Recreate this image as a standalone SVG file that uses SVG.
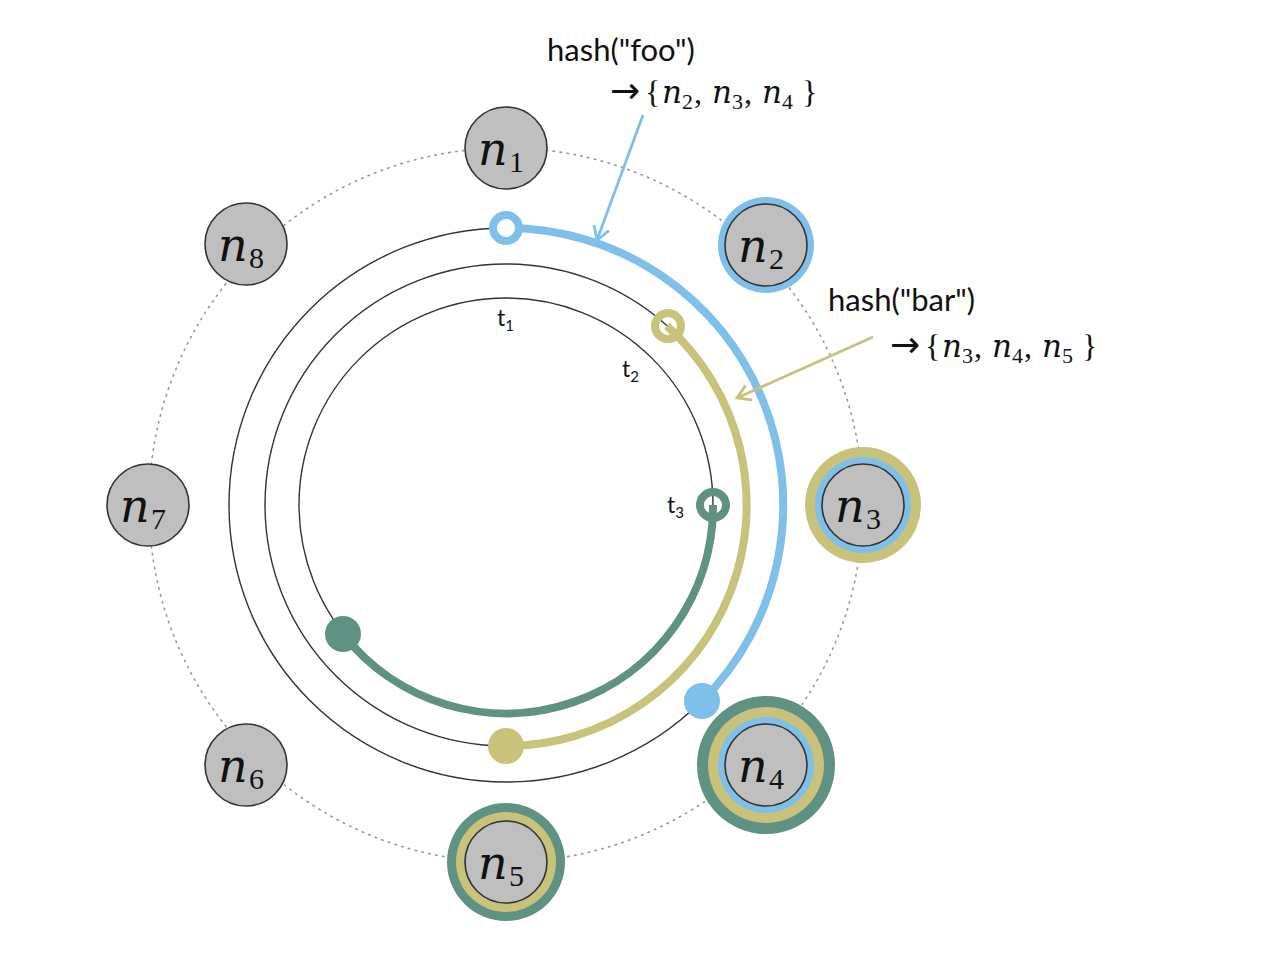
<svg xmlns="http://www.w3.org/2000/svg" width="1268" height="972" viewBox="0 0 1268 972">
<style>
.ring{fill:none;stroke:#333;stroke-width:1.4}
.dot{fill:none;stroke:#999;stroke-width:1.6;stroke-dasharray:1.5 5.5;stroke-linecap:round}
.node{fill:#bfbfbf;stroke:#333;stroke-width:1.6}
.nl{font-family:"DejaVu Serif",serif;font-style:italic;font-size:46px;fill:#111}
.ns{font-family:"Liberation Serif",serif;font-style:normal;font-size:30px}
.lab{font-family:"Lato","Open Sans",sans-serif;font-size:31px;fill:#111}
.math{font-family:"Liberation Serif",serif;font-size:32px;fill:#111}
.mi{font-family:"DejaVu Serif",serif;font-style:italic;font-size:31px}
.sub{font-size:22px}
.arr{font-family:"DejaVu Sans",sans-serif;font-size:36px}
.tl{font-family:"Lato","Open Sans",sans-serif;font-size:23px;fill:#111}
.ts{font-size:15px}
.blue{stroke:#7fc0eb}
.khaki{stroke:#c8c27a}
.green{stroke:#5f9282}
</style>
<defs>
<marker id="ab" markerUnits="userSpaceOnUse" markerWidth="30" markerHeight="30" refX="0" refY="0" viewBox="-20 -15 30 30" orient="auto"><path d="M-13,-8 L0,0 L-13,8" fill="none" stroke="#7fc0eb" stroke-width="2.8"/></marker>
<marker id="ak" markerUnits="userSpaceOnUse" markerWidth="30" markerHeight="30" refX="0" refY="0" viewBox="-20 -15 30 30" orient="auto"><path d="M-13,-8 L0,0 L-13,8" fill="none" stroke="#c8c27a" stroke-width="2.8"/></marker>
</defs>
<rect width="1268" height="972" fill="#fff"/>
<circle class="dot" cx="506" cy="505" r="357"/>
<circle class="ring" cx="506" cy="505" r="277"/>
<circle class="ring" cx="506" cy="505" r="241"/>
<circle class="ring" cx="506" cy="505" r="207"/>
<g id="connectors">
<path class="blue" d="M506,228 A277,277 0 0 1 702,701" fill="none" stroke-width="8"/>
<circle cx="506" cy="228" r="13" fill="#fff" class="blue" stroke-width="8"/>
<circle cx="702" cy="701" r="18" fill="#7fc0eb"/>
<path class="khaki" d="M667,326 A241,241 0 0 1 506,746" fill="none" stroke-width="8"/>
<circle cx="668" cy="326" r="13" fill="none" class="khaki" stroke-width="8"/>
<circle cx="506" cy="746" r="18" fill="#c8c27a"/>
<path class="green" d="M713,505 A207,207 0 0 1 343,634" fill="none" stroke-width="8"/>
<circle cx="713" cy="505" r="13" fill="none" class="green" stroke-width="8"/>
<circle cx="343" cy="634" r="18" fill="#5f9282"/>
<line x1="643" y1="115" x2="597" y2="240" stroke="#7fc0eb" stroke-width="2.8" marker-end="url(#ab)"/>
<line x1="873" y1="337" x2="737" y2="398" stroke="#c8c27a" stroke-width="2.8" marker-end="url(#ak)"/>
</g>
<text class="tl" x="497" y="326">t<tspan class="ts" dy="5">1</tspan></text>
<text class="tl" x="622" y="377">t<tspan class="ts" dy="5">2</tspan></text>
<text class="tl" x="667" y="513">t<tspan class="ts" dy="5">3</tspan></text>
<g id="n1"><circle class="node" cx="506" cy="148" r="41"/><text class="nl" x="478" y="165">n<tspan class="ns" x="509" y="172">1</tspan></text></g>
<g id="n2"><circle cx="766" cy="245" r="48" fill="#7fc0eb"/><circle class="node" cx="766" cy="245" r="41"/><text class="nl" x="738" y="262">n<tspan class="ns" x="769" y="269">2</tspan></text></g>
<g id="n3"><circle cx="863" cy="505" r="58" fill="#c8c27a"/><circle cx="863" cy="505" r="48" fill="#7fc0eb"/><circle class="node" cx="863" cy="505" r="41"/><text class="nl" x="835" y="522">n<tspan class="ns" x="866" y="529">3</tspan></text></g>
<g id="n4"><circle cx="766" cy="765" r="69" fill="#5f9282"/><circle cx="766" cy="765" r="58" fill="#c8c27a"/><circle cx="766" cy="765" r="48" fill="#7fc0eb"/><circle class="node" cx="766" cy="765" r="41"/><text class="nl" x="738" y="782">n<tspan class="ns" x="769" y="789">4</tspan></text></g>
<g id="n5"><circle cx="506" cy="862" r="59" fill="#5f9282"/><circle cx="506" cy="862" r="50" fill="#c8c27a"/><circle class="node" cx="506" cy="862" r="41"/><text class="nl" x="478" y="879">n<tspan class="ns" x="509" y="886">5</tspan></text></g>
<g id="n6"><circle class="node" cx="246" cy="765" r="41"/><text class="nl" x="218" y="782">n<tspan class="ns" x="249" y="789">6</tspan></text></g>
<g id="n7"><circle class="node" cx="148" cy="505" r="41"/><text class="nl" x="120" y="522">n<tspan class="ns" x="151" y="529">7</tspan></text></g>
<g id="n8"><circle class="node" cx="246" cy="244" r="41"/><text class="nl" x="218" y="261">n<tspan class="ns" x="249" y="268">8</tspan></text></g>
<g id="label-foo">
<text class="lab" x="547" y="61">hash("foo")</text>
<text class="math" y="103"><tspan class="arr" x="610" y="103">→</tspan><tspan x="645">{</tspan><tspan class="mi" x="662">n</tspan><tspan class="sub" x="682" y="109">2</tspan><tspan x="694" y="103">,</tspan><tspan class="mi" x="712">n</tspan><tspan class="sub" x="732" y="109">3</tspan><tspan x="744" y="103">,</tspan><tspan class="mi" x="762">n</tspan><tspan class="sub" x="782" y="109">4</tspan><tspan x="802" y="103">}</tspan></text>
</g>
<g id="label-bar">
<text class="lab" x="828" y="311">hash("bar")</text>
<text class="math" y="357"><tspan class="arr" x="890" y="357">→</tspan><tspan x="925">{</tspan><tspan class="mi" x="942">n</tspan><tspan class="sub" x="962" y="363">3</tspan><tspan x="974" y="357">,</tspan><tspan class="mi" x="992">n</tspan><tspan class="sub" x="1012" y="363">4</tspan><tspan x="1024" y="357">,</tspan><tspan class="mi" x="1042">n</tspan><tspan class="sub" x="1062" y="363">5</tspan><tspan x="1082" y="357">}</tspan></text>
</g>
</svg>
